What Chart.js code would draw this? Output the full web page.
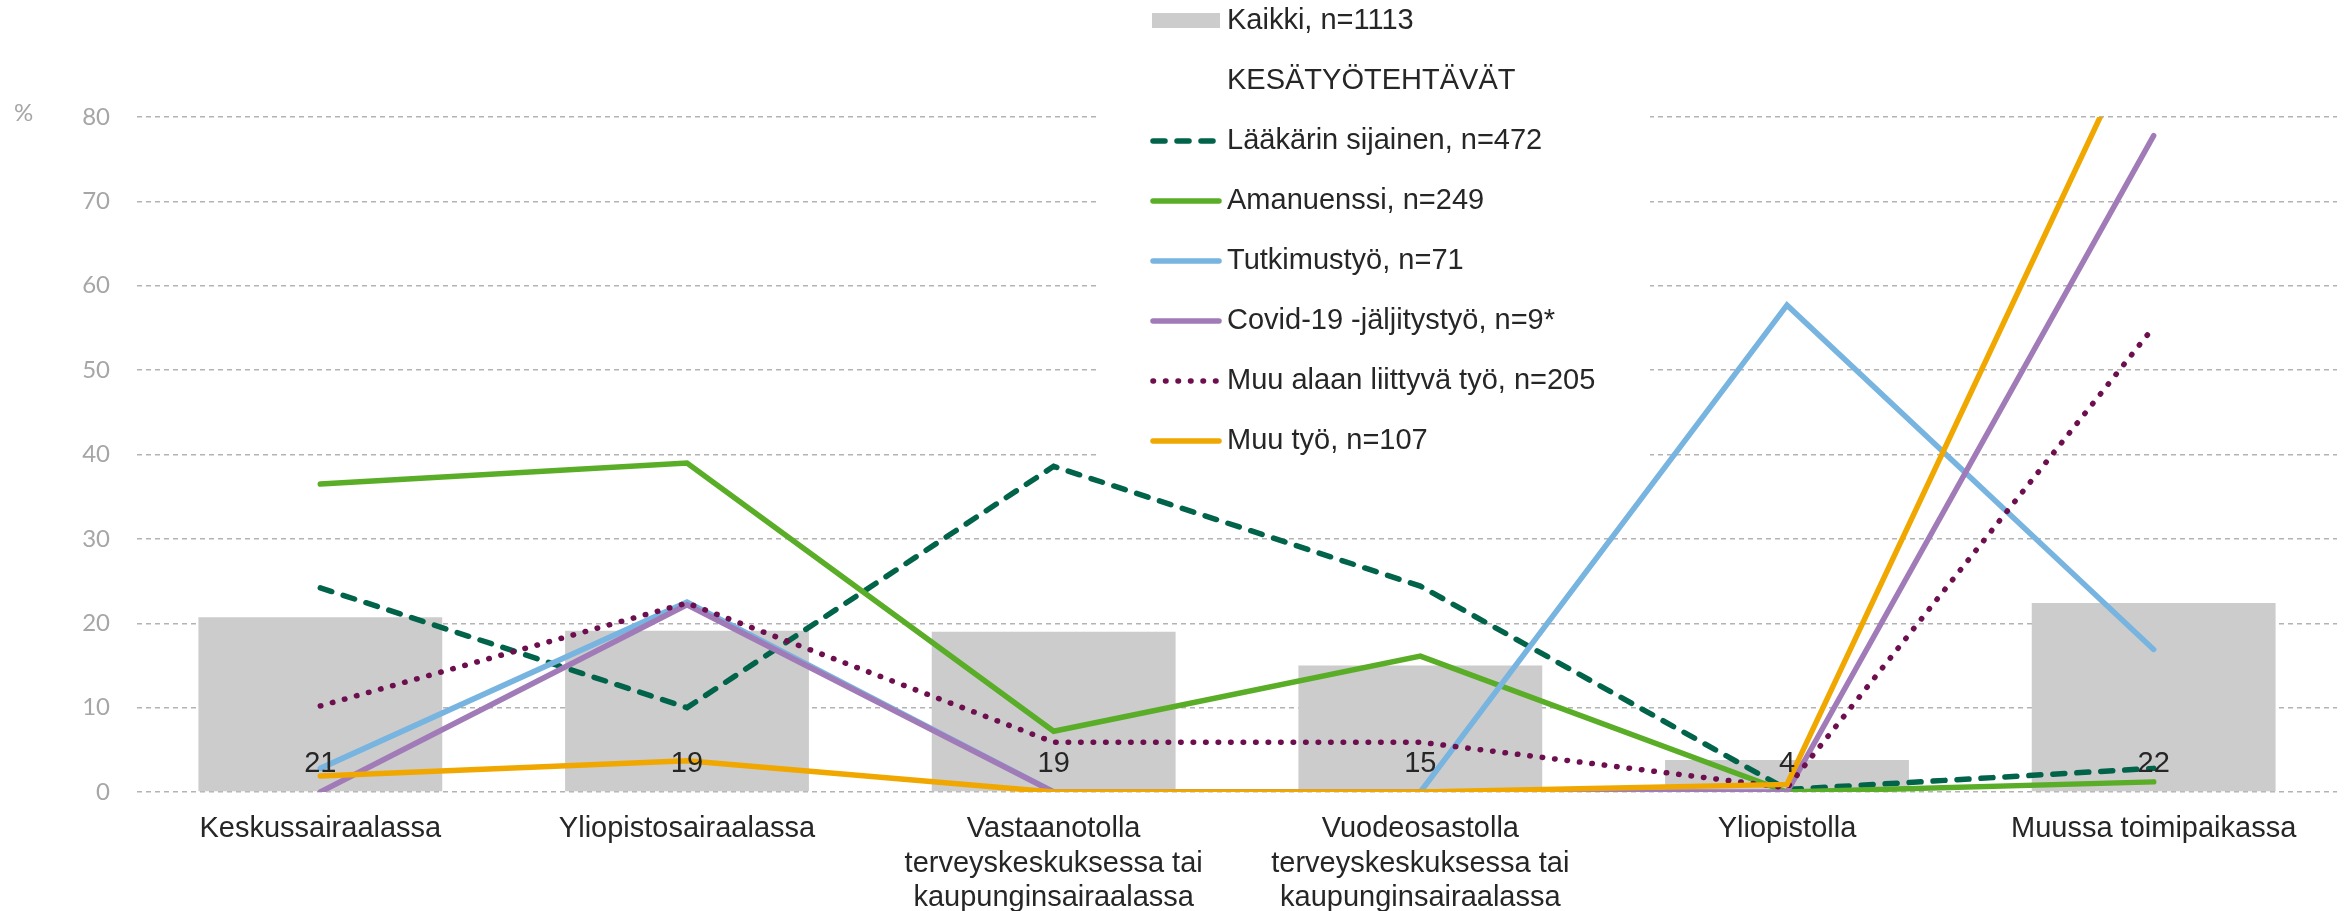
<!DOCTYPE html>
<html>
<head>
<meta charset="utf-8">
<script src="https://cdn.jsdelivr.net/npm/chart.js@4/dist/chart.umd.min.js"></script>
<style>
    html, body { margin: 0; padding: 0; background: #fff; }
    #wrap { width: 2348px; height: 911px; position: relative; }
</style>
</head>
<body>
<div id="wrap"><canvas id="chart"></canvas></div>
<script>
const categories = [
    ["Keskussairaalassa"],
    ["Yliopistosairaalassa"],
    ["Vastaanotolla", "terveyskeskuksessa tai", "kaupunginsairaalassa"],
    ["Vuodeosastolla", "terveyskeskuksessa tai", "kaupunginsairaalassa"],
    ["Yliopistolla"],
    ["Muussa toimipaikassa"]
];
const kaikki = [20.7, 19.1, 19.0, 15.0, 3.8, 22.4];
const laakari = [24.2, 10.0, 38.6, 24.4, 0.3, 2.8];
const amanuenssi = [36.5, 39.0, 7.2, 16.1, 0, 1.2];
const tutkimus = [2.8, 22.5, 0, 0, 57.7, 16.9];
const covid = [0, 22.2, 0, 0, 0, 77.8];
const muuAla = [10.2, 22.4, 5.9, 5.9, 0.5, 55.1];
const muuTyo = [1.9, 3.7, 0, 0, 0.9, 93.5];
const yTicks = [0, 10, 20, 30, 40, 50, 60, 70, 80];

const TEXT = "#262626";
const FONT = '"Liberation Sans", Arial, sans-serif';
const TICK_FONT = 'Lato, "Noto Sans", sans-serif';

const series = [
    { label: "Lääkärin sijainen, n=472", data: laakari, color: "#00634a", dash: [12, 12] },
    { label: "Amanuenssi, n=249", data: amanuenssi, color: "#5aad27", dash: [] },
    { label: "Tutkimustyö, n=71", data: tutkimus, color: "#78b4e0", dash: [] },
    { label: "Covid-19 -jäljitystyö, n=9*", data: covid, color: "#a07bb7", dash: [] },
    { label: "Muu alaan liittyvä työ, n=205", data: muuAla, color: "#6d0e4e", dash: [0.5, 12] },
    { label: "Muu työ, n=107", data: muuTyo, color: "#f0a800", dash: [] }
];

// legend box with white background, drawn over the grid
const legendBox = {
    id: "legendBox",
    beforeDatasetsDraw(chart) {
        const ctx = chart.ctx;
        ctx.save();
        ctx.fillStyle = "#fff";
        ctx.fillRect(1099, 0, 551, 470);
        ctx.font = "29px " + FONT;
        ctx.textBaseline = "middle";
        ctx.textAlign = "left";

        ctx.fillStyle = "#cccccc";
        ctx.fillRect(1152, 13, 68, 15);
        ctx.fillStyle = TEXT;
        ctx.fillText("Kaikki, n=1113", 1227, 21);
        ctx.fillText("KESÄTYÖTEHTÄVÄT", 1227, 81);

        series.forEach((s, i) => {
            const y = 141 + i * 60;
            ctx.strokeStyle = s.color;
            ctx.lineWidth = 5.5;
            ctx.lineCap = "round";
            ctx.setLineDash(s.dash);
            ctx.beginPath();
            ctx.moveTo(1153, y);
            ctx.lineTo(1219, y);
            ctx.stroke();
            ctx.setLineDash([]);
            ctx.fillText(s.label, 1227, y);
        });

        ctx.font = "24px " + TICK_FONT;
        ctx.fillStyle = "#a6a6a6";
        ctx.fillText("%", 14, 113);
        ctx.restore();
    }
};

const barLabels = {
    id: "barLabels",
    afterDatasetsDraw(chart) {
        const ctx = chart.ctx;
        const meta = chart.getDatasetMeta(0);
        const base = chart.scales.y.getPixelForValue(0);
        ctx.save();
        ctx.font = "29px " + FONT;
        ctx.fillStyle = TEXT;
        ctx.textAlign = "center";
        ctx.textBaseline = "middle";
        meta.data.forEach((bar, i) => {
            ctx.fillText(String(Math.round(kaikki[i])), bar.x, base - 28);
        });
        ctx.restore();
    }
};

new Chart(document.querySelector("#chart"), {
    type: "bar",
    data: {
        labels: categories,
        datasets: [
            {
                type: "bar",
                label: "Kaikki, n=1113",
                data: kaikki,
                backgroundColor: "#cccccc",
                borderWidth: 0,
                barPercentage: 0.665,
                categoryPercentage: 1,
                order: 10
            },
            ...series.map((s, i) => ({
                type: "line",
                label: s.label,
                data: s.data,
                borderColor: s.color,
                backgroundColor: s.color,
                borderWidth: 5.5,
                borderDash: s.dash,
                borderCapStyle: "round",
                pointRadius: 0,
                pointHoverRadius: 0,
                tension: 0,
                clip: 0,
                order: 6 - i
            }))
        ]
    },
    options: {
        responsive: true,
        maintainAspectRatio: false,
        animation: false,
        layout: { padding: { top: 117, right: 11, left: 0, bottom: 0 } },
        plugins: {
            legend: { display: false },
            tooltip: { enabled: false }
        },
        scales: {
            x: {
                offset: true,
                grid: { display: false },
                border: { display: false },
                ticks: {
                    color: TEXT,
                    font: { family: FONT, size: 29, lineHeight: 1.19 },
                    padding: 12,
                    maxRotation: 0,
                    autoSkip: false
                },
                afterFit: (scale) => { scale.height = 119; }
            },
            y: {
                min: 0,
                max: 80,
                afterBuildTicks: (scale) => { scale.ticks = yTicks.map((v) => ({ value: v })); },
                grid: { color: "#b3b3b3", lineWidth: 1.5, drawTicks: false },
                border: { display: false, dash: [5, 4] },
                ticks: {
                    color: "#a6a6a6",
                    font: { family: TICK_FONT, size: 24 },
                    padding: 27
                },
                afterFit: (scale) => { scale.width = 137; }
            }
        }
    },
    plugins: [legendBox, barLabels]
});
</script>
</body>
</html>
